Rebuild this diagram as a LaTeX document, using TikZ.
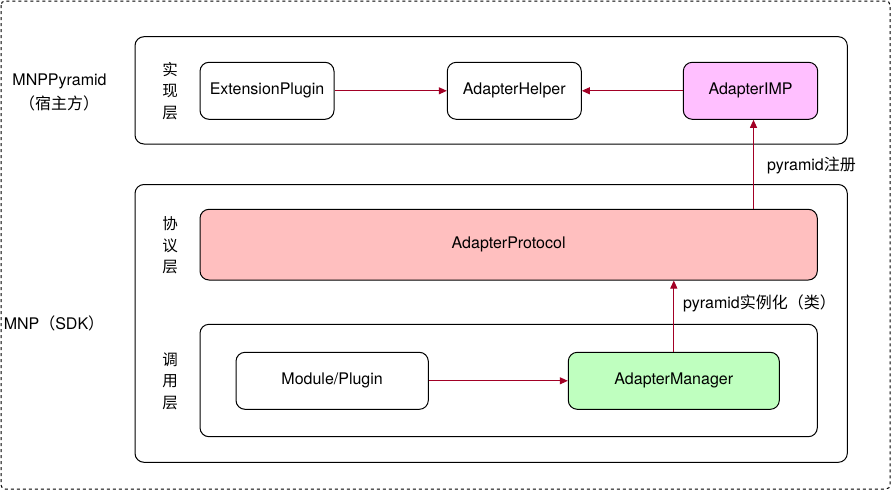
\documentclass[tikz,border=0pt]{standalone}
\usepackage{fontspec}
\setmainfont{TeX Gyre Heros}
\newfontfamily\cjk{Noto Sans CJK SC}
\usetikzlibrary{arrows.meta,calc}
\definecolor{arrowred}{HTML}{A20025}
\definecolor{impfill}{HTML}{FFBFFF}
\definecolor{protofill}{HTML}{FFBFBF}
\definecolor{mgrfill}{HTML}{BFFFBF}
\tikzset{
  box/.style={draw=black,line width=1pt,rounded corners=9pt,minimum height=57pt,inner sep=0pt,font=\fontsize{16}{19}\selectfont},
  frame/.style={draw=black,line width=1pt,rounded corners=9pt},
  arr/.style={draw=arrowred,line width=1pt,-{Triangle[length=8pt,width=7pt]}},
  vlabel/.style={align=center,font=\cjk\fontsize{15.5}{21.5}\selectfont,inner sep=0pt},
  txt/.style={font=\fontsize{16}{19}\selectfont,inner sep=0pt},
}
\begin{document}
\begin{tikzpicture}[x=1pt,y=-1pt]
\useasboundingbox (0,0) rectangle (891,490);
\draw[line width=1pt,dashed,dash pattern=on 3pt off 3pt,rounded corners=4pt] (1,1) rectangle (890,489);
% containers
\draw[frame] (135,36.7) rectangle (847.3,144);
\draw[frame] (135,184.5) rectangle (847.3,462.3);
\draw[frame] (200,324.3) rectangle (817.3,436.7);
% side labels
\node[txt,anchor=center] (mnpp) at (59.5,81) {MNPPyramid};
\node[txt,anchor=center] (host) at (59,103) {\cjk （宿主方）};
\node[txt,anchor=center] (sdk) at (54,323.5) {MNP{\cjk （}SDK{\cjk ）}};
\node[vlabel] (l1) at (170,91) {实\\现\\层};
\node[vlabel] (l2) at (170,245.5) {协\\议\\层};
\node[vlabel] (l3) at (170,381) {调\\用\\层};
% nodes
\node[box,minimum width=134pt] (ext) at (267,90.8) {ExtensionPlugin};
\node[box,minimum width=134pt] (helper) at (514.3,90.8) {AdapterHelper};
\node[box,minimum width=134.4pt,fill=impfill] (imp) at (750.5,90.8) {AdapterIMP};
\node[box,minimum width=617.3pt,minimum height=70.7pt,fill=protofill] (proto) at (508.65,244.65) {AdapterProtocol};
\node[box,minimum width=192.3pt] (mod) at (332.15,380.8) {Module/Plugin};
\node[box,minimum width=211pt,fill=mgrfill] (mgr) at (673.8,380.8) {AdapterManager};
% connectors
\draw[arr] (ext.east) -- (helper.west);
\draw[arr] (imp.west) -- (helper.east);
\coordinate (r1) at ([xshift=3pt]imp.south);
\draw[arr] (r1 |- proto.north) -- (r1);
\draw[arr] (mgr.north) -- (mgr.north |- proto.south);
\draw[arr] (mod.east) -- (mgr.west);
% connector labels
\node[txt,anchor=west] (lab1) at (767,165.5) {pyramid{\cjk 注册}};
\node[txt,anchor=west] (lab2) at (683,303.5) {pyramid{\cjk 实例化（类）}};
\end{tikzpicture}
\end{document}
